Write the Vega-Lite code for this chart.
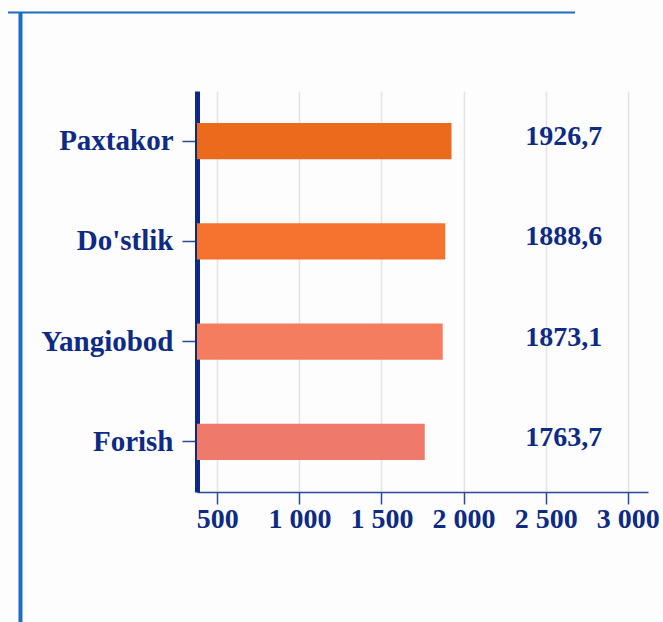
{
  "$schema": "https://vega.github.io/schema/vega-lite/v6.json",
  "width": 451,
  "height": 401,
  "autosize": {"type": "none"},
  "padding": {"left": 197, "top": 91, "right": 15, "bottom": 130},
  "background": "#fdfdfd",
  "config": {
    "locale": {"number": {"decimal": ",", "thousands": " ", "grouping": [3], "currency": ["", ""]}},
    "view": {"stroke": null},
    "font": "Liberation Serif"
  },
  "data": {
    "values": [
      {"district": "Paxtakor", "value": 1926.7},
      {"district": "Do'stlik", "value": 1888.6},
      {"district": "Yangiobod", "value": 1873.1},
      {"district": "Forish", "value": 1763.7}
    ]
  },
  "layer": [
    {
      "layer": [
        {
          "mark": {"type": "bar"},
          "encoding": {
            "y": {
              "field": "district",
              "type": "nominal",
              "sort": null,
              "scale": {"paddingInner": 0.64, "paddingOuter": 0.32},
              "axis": {
                "title": null,
                "domainColor": "#0b2a85",
                "domainWidth": 5,
                "tickColor": "#2a4a9a",
                "tickSize": 15,
                "tickWidth": 1.5,
                "labelFont": "Liberation Serif",
                "labelFontWeight": "bold",
                "labelFontSize": 29,
                "labelColor": "#0d2b85",
                "labelPadding": 9,
                "grid": false
              }
            },
            "x": {
              "field": "value",
              "type": "quantitative",
              "scale": {"domain": [376.3, 3123.6], "zero": false, "nice": false},
              "axis": {
                "title": null,
                "values": [500, 1000, 1500, 2000, 2500, 3000],
                "format": ",d",
                "domainColor": "#2a4a9a",
                "domainWidth": 1.5,
                "tickColor": "#2a4a9a",
                "tickSize": 12,
                "tickWidth": 1.5,
                "grid": true,
                "gridColor": "#e3e3e3",
                "gridWidth": 1.5,
                "labelFont": "Liberation Serif",
                "labelFontWeight": "bold",
                "labelFontSize": 28,
                "labelColor": "#0d2b85",
                "labelPadding": 1
              }
            },
            "x2": {"datum": 376.3},
            "color": {
              "field": "district",
              "type": "nominal",
              "sort": null,
              "scale": {
                "domain": ["Paxtakor", "Do'stlik", "Yangiobod", "Forish"],
                "range": ["#ec6a1b", "#f5732f", "#f47d5f", "#ef7a6b"]
              },
              "legend": null
            }
          }
        },
        {
          "mark": {
            "type": "text",
            "font": "Liberation Serif",
            "fontWeight": "bold",
            "fontSize": 28,
            "color": "#0d2b85",
            "dy": -4
          },
          "encoding": {
            "y": {"field": "district", "type": "nominal", "sort": null},
            "x": {"datum": 2610},
            "text": {"field": "value", "type": "quantitative", "format": ".1f"}
          }
        }
      ]
    },
    {
      "data": {"values": [{}]},
      "layer": [
        {
          "mark": {"type": "rule", "color": "#1b6ec2", "strokeWidth": 4},
          "encoding": {
            "x": {"datum": -699},
            "y": {"datum": 1.196, "type": "quantitative", "scale": {"domain": [0, 1], "nice": false, "zero": false}, "axis": null},
            "y2": {"datum": -0.33}
          }
        },
        {
          "mark": {"type": "rule", "color": "#1b6ec2", "strokeWidth": 2},
          "encoding": {
            "x": {"datum": -775},
            "x2": {"datum": 2679},
            "y": {"datum": 1.196, "type": "quantitative", "axis": null}
          }
        }
      ]
    }
  ],
  "resolve": {"scale": {"y": "independent"}}
}
